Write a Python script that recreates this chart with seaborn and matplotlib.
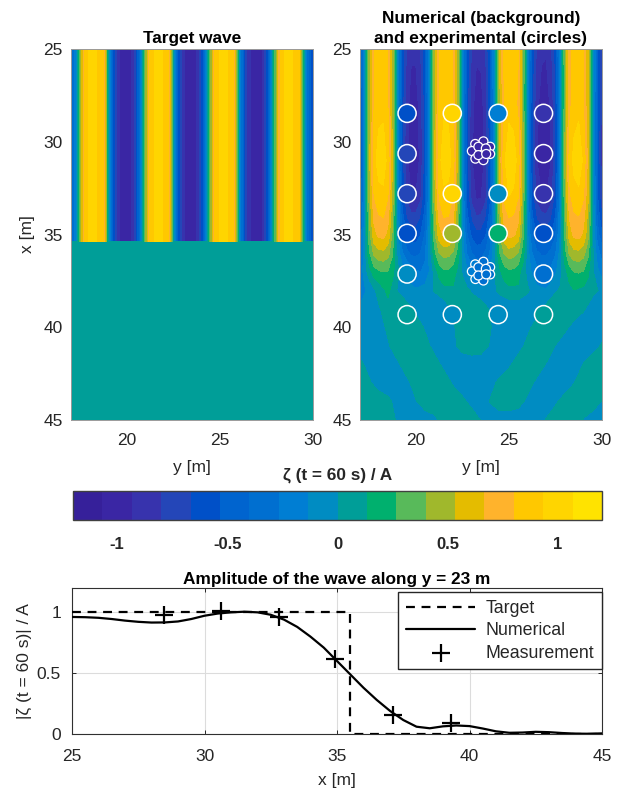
import numpy as np
import pandas as pd
import matplotlib
matplotlib.use("Agg")
import matplotlib.pyplot as plt
from matplotlib.colors import ListedColormap, BoundaryNorm
import seaborn as sns

sns.set_theme(style="white")
plt.rcParams['font.family'] = ['Liberation Sans', 'DejaVu Sans']
plt.rcParams['mathtext.default'] = 'regular'

# ---------- data ----------
level_colors = ['#36209a', '#3a26a4', '#3733ad', '#2446b8', '#0050c8', '#0064cf',
                '#006fd0', '#007ed3', '#008cc2', '#009e98', '#00b06e', '#58ba5a',
                '#a0b82c', '#e4bc00', '#ffb32c', '#ffc800', '#ffd500', '#ffe300']
level_edges = [-1.2, -1.0667, -0.9333, -0.8, -0.6667, -0.5333, -0.4, -0.2667, -0.1333, 0.0,
               0.1333, 0.2667, 0.4, 0.5333, 0.6667, 0.8, 0.9333, 1.0667, 1.2]

fine_y = [17.0, 17.25, 17.5, 17.75, 18.0, 18.25, 18.5, 18.75, 19.0, 19.25, 19.5, 19.75, 20.0,
          20.25, 20.5, 20.75, 21.0, 21.25, 21.5, 21.75, 22.0, 22.25, 22.5, 22.75, 23.0, 23.25,
          23.5, 23.75, 24.0, 24.25, 24.5, 24.75, 25.0, 25.25, 25.5, 25.75, 26.0, 26.25, 26.5,
          26.75, 27.0, 27.25, 27.5, 27.75, 28.0, 28.25, 28.5, 28.75, 29.0, 29.25, 29.5, 29.75, 30.0]
target_stripes = [-.55, -.2, .37, .83, .95, .98, .9, .8, .05, -.55, -.9, -.97, -.98, -.95,
                  -.7, -.25, .37, .83, .95, .98, .9, .8, .05, -.55, -.9, -.97, -.98, -.95,
                  -.7, -.25, .37, .83, .95, .98, .9, .8, .05, -.55, -.9, -.97, -.98, -.95,
                  -.7, -.25, .37, .83, .95, .98, .9, .8, .05, -.42, -.62]
target_flat = [0.02] * len(fine_y)
target_x = [25.0, 35.38, 35.4, 45.0]

upper_x = [25, 28, 31, 33, 34, 35, 36, 37, 38]
u25 = [-.58,-.11,.44,.78,.88,.9,.8,.46,-.09,-.56,-.81,-.91,-.91,-.81,-.56,-.09,.46,.79,.89,.88,.78,.44,-.11,-.58,-.82,-.91,-.9,-.8,-.53,-.05,.53,.84,.93,.91,.81,.41,-.16,-.6,-.83,-.91,-.92,-.84,-.63,-.2,.36,.76,.87,.9,.81,.55,0,-.5,-.79]
u28 = [-.63,-.12,.45,.79,.89,.9,.8,.47,-.1,-.61,-.88,-.99,-.99,-.88,-.61,-.1,.47,.81,.91,.9,.8,.45,-.12,-.63,-.89,-.99,-.98,-.87,-.58,-.05,.5,.8,.89,.87,.77,.4,-.17,-.66,-.9,-.99,-1,-.91,-.69,-.22,.36,.76,.87,.9,.81,.55,0,-.55,-.86]
u31 = [-.64,-.12,.49,.88,.99,1,.89,.52,-.1,-.62,-.9,-1.02,-1.02,-.9,-.62,-.1,.52,.89,1,.99,.88,.49,-.12,-.64,-.92,-1.02,-1.01,-.89,-.59,-.05,.57,.91,1.02,1,.88,.45,-.18,-.68,-.93,-1.02,-1.03,-.94,-.71,-.23,.4,.85,.98,1.01,.91,.62,0,-.56,-.88]
u33 = [-.59,-.11,.45,.79,.89,.9,.8,.47,-.1,-.57,-.83,-.93,-.93,-.83,-.57,-.1,.47,.8,.9,.89,.79,.45,-.11,-.59,-.85,-.95,-.94,-.83,-.55,-.05,.52,.83,.93,.91,.8,.41,-.16,-.62,-.85,-.93,-.94,-.86,-.65,-.21,.36,.76,.87,.9,.81,.55,0,-.51,-.81]
u34 = [-.49,-.1,.4,.7,.79,.81,.71,.42,-.08,-.47,-.69,-.77,-.77,-.69,-.47,-.08,.42,.71,.81,.8,.71,.4,-.1,-.5,-.71,-.8,-.79,-.7,-.46,-.04,.46,.72,.81,.79,.7,.36,-.14,-.52,-.7,-.77,-.78,-.71,-.54,-.17,.32,.68,.78,.8,.72,.49,0,-.43,-.68]
u35 = [-.38,-.08,.35,.62,.7,.71,.63,.36,-.06,-.37,-.54,-.61,-.61,-.54,-.38,-.07,.36,.6,.69,.68,.6,.34,-.08,-.4,-.57,-.64,-.63,-.55,-.35,-.03,.4,.63,.71,.69,.61,.31,-.11,-.41,-.55,-.6,-.61,-.55,-.42,-.14,.28,.6,.7,.72,.64,.44,0,-.34,-.53]
u36 = [-.3,-.06,.25,.43,.49,.5,.45,.28,-.03,-.24,-.36,-.43,-.44,-.4,-.28,-.06,.22,.4,.45,.44,.38,.22,-.06,-.28,-.4,-.46,-.45,-.38,-.24,-.02,.26,.41,.47,.45,.39,.2,-.08,-.27,-.38,-.42,-.42,-.37,-.28,-.09,.2,.42,.49,.5,.45,.3,.02,-.2,-.33]
u37 = [-.22,-.08,.08,.2,.25,.27,.26,.17,.04,-.06,-.14,-.2,-.25,-.27,-.25,-.12,.05,.18,.24,.24,.2,.1,-.02,-.12,-.2,-.27,-.3,-.26,-.15,-.02,.1,.2,.24,.23,.18,.08,-.06,-.16,-.23,-.28,-.28,-.24,-.16,-.05,.08,.2,.27,.28,.26,.16,.02,-.1,-.2]
u38 = [-.2,-.15,-.1,-.025,.05,.11,.17,.08,-.01,-.055,-.1,-.11,-.12,-.1,-.08,-.035,.01,.05,.09,.1,.11,.085,.06,.02,-.02,-.06,-.1,-.075,-.05,-.01,.03,.065,.1,.105,.11,.065,.02,-.04,-.1,-.11,-.12,-.07,-.02,.015,.05,.09,.13,.115,.1,.07,.04,.005,-.03]

coarse_y = [17.0, 17.5, 18.0, 18.5, 19.0, 19.5, 20.0, 20.5, 21.0, 21.5, 22.0, 22.5, 23.0, 23.5,
            24.0, 24.5, 25.0, 25.5, 26.0, 26.5, 27.0, 27.5, 28.0, 28.5, 29.0, 29.5, 30.0]
lower_x = [38, 39, 40, 41, 42, 43, 44, 45]
row38 = [-.2, -.1, .05, .17, -.01, -.1, -.12, -.08, .01, .09, .11, .06, -.02, -.1, -.05, .03, .1, .11, .02, -.1, -.12, -.02, .05, .13, .1, .04, -.03]
row39 = [-.12, -.12, -.02, .08, .12, .06, -.04, -.1, -.1, -.09, .01, .1, .1, .08, -.02, -.1, -.1, -.1, -.1, -.06, .04, .1, .1, .1, .02, -.08, -.1]
row40 = [-.1, -.1, -.07, .03, .1, .1, .08, -.02, -.1, -.1, -.02, .08, .1, .1, .01, -.09, -.1, -.1, -.04, .06, .1, .1, .04, -.06, -.1, -.1, -.1]
row41 = [-.1, -.1, -.1, -.02, .08, .1, .1, .05, -.05, -.1, -.04, .06, .1, .08, -.02, -.1, -.1, -.06, .04, .1, .1, -.005, -.1, -.1, -.1, -.08, .02]
row42 = [.04, -.06, -.1, -.1, -.03, .07, .1, .1, .06, -.04, -.1, -.1, -.1, -.1, -.1, -.1, -.03, .07, .1, .09, -.01, -.1, -.1, -.1, .005, .1, .1]
row43 = [.1, .02, -.08, -.1, -.1, -.04, .06, .1, .1, .08, -.02, -.1, -.1, -.1, -.06, .04, .1, .1, .06, -.04, -.1, -.1, -.1, -.005, .1, .1, .1]
row44 = [.1, .1, .1, .04, -.06, -.1, -.01, .09, .1, .1, .1, .04, -.06, -.09, .01, .1, .1, .06, -.04, -.1, -.1, -.03, .07, .1, .1, .1, -.01]
row45 = [.1, .1, .1, .08, -.02, -.1, -.1, -.1, -.04, .06, .1, .1, .1, -.01, -.1, -.1, -.1, -.1, -.1, -.09, .01, .1, .1, .1, -.01, -.1, -.1]

probe_y = [19.53, 21.96, 24.42, 26.86, 19.53, 26.86, 19.53, 21.96, 24.42, 26.86,
           19.53, 21.96, 24.42, 26.86, 19.53, 26.86, 19.53, 21.96, 24.42, 26.86]
probe_x = [28.47, 28.47, 28.47, 28.47, 30.64, 30.64, 32.8, 32.8, 32.8, 32.8,
           34.94, 34.94, 34.94, 34.94, 37.13, 37.13, 39.32, 39.32, 39.32, 39.32]
probe_val = [-.6, 1.0, -.2, -.9, -.75, -.95, -.75, 1.0, -.08, -.9,
             -.6, .48, .2, -.6, -.03, -.3, .05, -.05, -.08, .05]

cluster_y = [23.51, 23.63, 23.19, 23.99, 23.01, 23.99, 23.2, 23.63, 23.36, 23.76, 23.36, 23.78]
cluster1_x = [30.48, 29.98, 30.12, 30.27, 30.5, 30.66, 30.91, 30.99, 30.27, 30.36, 30.72, 30.66]
cluster1_val = [-1.0, -1.0, -.95, -1.0, -.95, -1.0, -.95, -1.0, -1.0, -1.0, -1.0, -1.0]
cluster2_x = [36.97, 36.47, 36.61, 36.76, 36.99, 37.15, 37.4, 37.48, 36.76, 36.85, 37.21, 37.15]
cluster2_val = [-.35, -.3, -.2, -.3, -.2, -.3, -.2, -.3, -.3, -.3, -.3, -.3]

line_x = [25, 25.5, 26, 26.5, 27, 27.5, 28, 28.5, 29, 29.5, 30, 30.5, 31, 31.5, 32, 32.5, 33, 33.5,
          34, 34.5, 35, 35.5, 36, 36.5, 37, 37.5, 38, 38.5, 39, 39.5, 40, 40.5, 41, 41.5, 42, 42.5,
          43, 43.5, 44, 44.5, 45]
line_amp = [.962, .96, .955, .945, .932, .922, .916, .917, .925, .945, .972, .99, 1.0, 1.005, 1.0, .98,
            .94, .88, .80, .71, .60, .49, .38, .28, .19, .115, .06, .047, .063, .07, .065, .045,
            .022, .01, .012, .018, .015, .008, .003, .002, .005]
target_line_x = [25, 35.5, 35.5, 45]
target_line_amp = [1, 1, 0, 0]
meas_x = [28.47, 30.64, 32.8, 34.94, 37.13, 39.32]
meas_amp = [.98, 1.01, .96, .615, .155, .09]

# ---------- figure ----------
W, H = 621, 788
fig = plt.figure(figsize=(W / 100, H / 100), dpi=100, facecolor='white')
def axes_px(x0, y0, x1, y1):
    return fig.add_axes([x0 / W, 1 - y1 / H, (x1 - x0) / W, (y1 - y0) / H])

cmap = ListedColormap(level_colors)
norm = BoundaryNorm(level_edges, cmap.N)
TXT = '#262626'
FS = 12.5
TFS = 12.4

ax1 = axes_px(71, 49, 313, 420)
ax2 = axes_px(360, 49, 602, 420)
cax = axes_px(73, 491, 602, 520)
ax3 = axes_px(72, 588, 602, 734)

target_field = np.array([target_stripes, target_stripes, target_flat, target_flat])
cs = ax1.contourf(fine_y, target_x, target_field, levels=level_edges, cmap=cmap, norm=norm)
upper_field = np.array([u25, u28, u31, u33, u34, u35, u36, u37, u38])
lower_field = np.array([row38, row39, row40, row41, row42, row43, row44, row45])
ax2.contourf(fine_y, upper_x, upper_field, levels=level_edges, cmap=cmap, norm=norm)
ax2.contourf(coarse_y, lower_x, lower_field, levels=level_edges, cmap=cmap, norm=norm)

sns.scatterplot(x=cluster_y, y=cluster1_x, c=cluster1_val, cmap=cmap, norm=norm, s=42,
                edgecolor='white', linewidth=0.9, ax=ax2, zorder=3, legend=False)
sns.scatterplot(x=cluster_y, y=cluster2_x, c=cluster2_val, cmap=cmap, norm=norm, s=42,
                edgecolor='white', linewidth=0.9, ax=ax2, zorder=3, legend=False)
sns.scatterplot(x=probe_y, y=probe_x, c=probe_val, cmap=cmap, norm=norm, s=170,
                edgecolor='white', linewidth=1.1, ax=ax2, zorder=4, legend=False)

for ax in (ax1, ax2):
    ax.set_xlim(17, 30)
    ax.set_ylim(45, 25)
    ax.set_xticks([20, 25, 30])
    ax.set_yticks([25, 30, 35, 40, 45])
    ax.tick_params(axis='x', length=0, labelsize=FS, labelcolor=TXT, pad=9)
    ax.tick_params(axis='y', length=0, labelsize=FS, labelcolor=TXT, pad=6)
    ax.set_xlabel('y [m]', fontsize=FS, color=TXT, labelpad=9)
    for s in ax.spines.values():
        s.set_color('#9a9a9a')
        s.set_linewidth(0.7)
ax1.set_ylabel('x [m]', fontsize=FS, color=TXT, labelpad=6)
ax1.set_title('Target wave', fontsize=TFS, fontweight='bold', color='black', pad=4)
ax2.set_title('Numerical (background)\nand experimental (circles)', fontsize=TFS,
              fontweight='bold', color='black', pad=4, linespacing=1.45)

cb = fig.colorbar(cs, cax=cax, orientation='horizontal', spacing='proportional')
cb.set_ticks([-1, -0.5, 0, 0.5, 1])
cb.set_ticklabels(['-1', '-0.5', '0', '0.5', '1'])
cb.ax.minorticks_off()
cb.ax.tick_params(direction='in', length=4, width=0.8, color='#262626', labelsize=12,
                  labelcolor=TXT, pad=12)
for lab in cb.ax.get_xticklabels():
    lab.set_fontweight('bold')
cb.outline.set_edgecolor('#404040')
cb.outline.set_linewidth(1.0)
cb.ax.xaxis.set_label_position('top')
cb.set_label('ζ (t = 60 s) / A', fontsize=TFS, fontweight='bold', color=TXT, labelpad=8)

df_target = pd.DataFrame({'x': target_line_x, 'amp': target_line_amp})
df_num = pd.DataFrame({'x': line_x, 'amp': line_amp})
df_meas = pd.DataFrame({'x': meas_x, 'amp': meas_amp})
sns.lineplot(data=df_target, x='x', y='amp', estimator=None, sort=False, color='black',
             lw=1.6, linestyle=(0, (4, 3)), label='Target', ax=ax3, zorder=3)
sns.lineplot(data=df_num, x='x', y='amp', estimator=None, sort=False, color='black',
             lw=1.6, label='Numerical', ax=ax3, zorder=4)
sns.scatterplot(data=df_meas, x='x', y='amp', marker='+', s=150, color='black',
                linewidth=1.6, label='Measurement', ax=ax3, zorder=5)
ax3.set_xlim(25, 45)
ax3.set_ylim(0, 1.2)
ax3.set_xticks([25, 30, 35, 40, 45])
ax3.set_yticks([0, 0.5, 1])
ax3.set_yticklabels(['0', '0.5', '1'])
ax3.grid(True, color='#dcdcdc', lw=0.8)
ax3.set_axisbelow(True)
ax3.tick_params(direction='in', length=3, width=0.7, color='#262626', top=True, right=True,
                bottom=True, left=True, labelsize=FS, labelcolor=TXT)
ax3.tick_params(axis='x', pad=11)
ax3.tick_params(axis='y', pad=8)
ax3.set_xlabel('x [m]', fontsize=FS, color=TXT, labelpad=6)
ax3.set_ylabel('|ζ (t = 60 s)| / A', fontsize=FS, color=TXT, labelpad=3)
ax3.set_title('Amplitude of the wave along y = 23 m', fontsize=TFS, fontweight='bold',
              color='black', pad=3)
for s in ax3.spines.values():
    s.set_color('#303030')
    s.set_linewidth(0.8)
leg = ax3.legend(loc='upper right', bbox_to_anchor=(1.0, 0.97), fontsize=12.8, frameon=True,
                 fancybox=False, framealpha=1, edgecolor='#262626', handlelength=3.9,
                 borderaxespad=0, labelspacing=0.31, handletextpad=0.6, borderpad=0.42)
leg.get_frame().set_linewidth(1.0)
for t in leg.get_texts():
    t.set_color(TXT)

fig.savefig('out.png', dpi=100)
